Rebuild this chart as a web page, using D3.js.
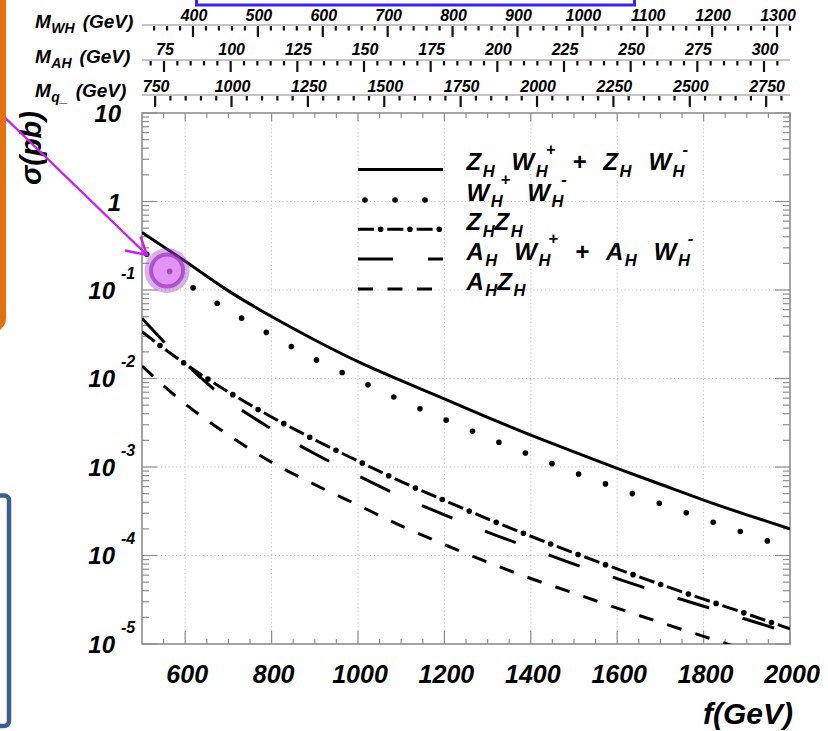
<!DOCTYPE html>
<html>
<head>
<meta charset="utf-8">
<script src="https://cdnjs.cloudflare.com/ajax/libs/d3/7.8.5/d3.min.js"></script>
<style>
  html, body { margin: 0; padding: 0; background: #ffffff; }
  svg { display: block; }
  text { font-family: "Liberation Sans", Arial, Helvetica, sans-serif; font-weight: bold; font-style: italic; fill: #000; }
</style>
</head>
<body>
<svg id="chart" width="828" height="731"></svg>
<script>
// ---- data: cross sections (pb) versus the symmetry-breaking scale f (GeV) ----
const fValues = [500, 600, 700, 800, 900, 1000, 1100, 1200, 1300, 1400, 1500, 1600, 1700, 1800, 1900, 2000];

// Z_H W_H^+ + Z_H W_H^-
const sigmaZW = [0.4467, 0.2113, 0.09772, 0.05012, 0.02723, 0.01549, 0.009441, 0.005888,
                 0.003631, 0.002291, 0.001479, 0.000966, 0.000638, 0.000423, 0.000288, 0.000200];
// W_H^+ W_H^-
const sigmaWW = [0.2793, 0.1216, 0.05916, 0.03069, 0.01660, 0.009616, 0.005662, 0.003451,
                 0.002153, 0.001361, 0.000873, 0.000577, 0.000386, 0.000259, 0.000176, 0.000119];
// Z_H Z_H
const sigmaZZ = [0.0338, 0.01462, 0.007047, 0.003673, 0.002028, 0.001169, 0.000684, 0.000419,
                 0.000260, 0.000165, 0.000107, 7.05e-5, 4.72e-5, 3.21e-5, 2.19e-5, 1.48e-5];
// A_H W_H^+ + A_H W_H^-
const sigmaAW = [0.04786, 0.01483, 0.00561, 0.00269, 0.00141, 0.000798, 0.000465, 0.000288,
                 0.000184, 0.000121, 7.98e-5, 5.48e-5, 3.78e-5, 2.67e-5, 1.89e-5, 1.33e-5];
// A_H Z_H
const sigmaAZ = [0.01384, 0.00516, 0.00230, 0.00113, 0.000632, 0.000371, 0.000216, 0.000133,
                 8.41e-5, 5.50e-5, 3.76e-5, 2.54e-5, 1.75e-5, 1.22e-5, 8.5e-6, 6.0e-6];

// ---- axes ----
const fTicks = [600, 800, 1000, 1200, 1400, 1600, 1800, 2000];
const fTickLabels = ["600", "800", "1000", "1200", "1400", "1600", "1800", "2000"];
const sigmaDecades = [1e-5, 1e-4, 1e-3, 1e-2, 1e-1, 1, 10];
const sigmaDecadeLabels = [["10", "-5"], ["10", "-4"], ["10", "-3"], ["10", "-2"], ["10", "-1"], ["1", ""], ["10", ""]];

// heavy-partner mass scales that correspond to the f range
const mWHTicks = [400, 500, 600, 700, 800, 900, 1000, 1100, 1200, 1300];
const mWHRange = [321.4, 1320];
const mAHTicks = [75, 100, 125, 150, 175, 200, 225, 250, 275, 300];
const mAHRange = [66.75, 309.75];
const mQTicks = [750, 1000, 1250, 1500, 1750, 2000, 2250, 2500, 2750];
const mQRange = [707, 2828];

// ---- legend ----
const legendLabels = [
  "Z_{H} W_{H}^{+} + Z_{H} W_{H}^{-}",
  "W_{H}^{+} W_{H}^{-}",
  "Z_{H}Z_{H}",
  "A_{H} W_{H}^{+} + A_{H} W_{H}^{-}",
  "A_{H}Z_{H}"
];

// ================= drawing =================
const svg = d3.select("#chart");
const frame = { left: 142, right: 790, top: 113, bottom: 644 };

const x = d3.scaleLinear().domain([500, 2000]).range([frame.left, frame.right]);
const y = d3.scaleLog().domain([1e-5, 10]).range([frame.bottom, frame.top]);

const frameColor = "#8e8e8e";
const gridColor = "#bdbdbd";

// small rich-text helper: handles _{sub} and ^{sup}
function parseRich(s) {
  const out = []; let i = 0; let buf = "";
  const flush = () => { if (buf) { out.push({ t: buf, k: "n" }); buf = ""; } };
  while (i < s.length) {
    const c = s[i];
    if ((c === "_" || c === "^") && s[i + 1] === "{") {
      flush();
      const j = s.indexOf("}", i);
      out.push({ t: s.slice(i + 2, j), k: c === "_" ? "sub" : "sup" });
      i = j + 1;
    } else if (c === " ") { flush(); out.push({ k: "sp" }); i++; }
    else { buf += c; i++; }
  }
  flush();
  return out;
}
function drawRich(g, s, x0, y0, o) {
  let cx = x0, lastSub = null;
  parseRich(s).forEach(p => {
    if (p.k === "sp") { cx += o.space; lastSub = null; return; }
    let fs = o.fs, dy = 0, px = cx;
    if (p.k === "sub") { fs = o.subFs; dy = o.subDy; px = cx + o.subGap; }
    if (p.k === "sup") { fs = o.subFs; dy = o.supDy; px = lastSub ? lastSub.end + o.supShift : cx + o.subGap; }
    const t = g.append("text").attr("x", px).attr("y", y0 + dy)
      .style("font-size", fs + "px").text(p.t);
    const end = px + t.node().getComputedTextLength();
    if (p.k === "sub") { lastSub = { start: px, end: end }; cx = end; }
    else if (p.k === "sup") { cx = Math.max(cx, end); lastSub = null; }
    else { cx = end; lastSub = null; }
  });
  return cx;
}

// ---- grid ----
const grid = svg.append("g").attr("stroke", gridColor).attr("stroke-width", 1)
  .attr("stroke-dasharray", "1.2 2.6");
fTicks.filter(v => v < 2000).forEach(v => {
  grid.append("line").attr("x1", x(v)).attr("x2", x(v)).attr("y1", frame.top).attr("y2", frame.bottom);
});
sigmaDecades.filter(v => v > 1e-5 && v < 10).forEach(v => {
  grid.append("line").attr("x1", frame.left).attr("x2", frame.right).attr("y1", y(v)).attr("y2", y(v));
});

// ---- frame and tick marks ----
const ticks = svg.append("g").attr("stroke", frameColor).attr("stroke-width", 1.2);
// x ticks every 50 GeV on bottom and top edges
d3.range(550, 2001, 50).forEach(v => {
  const major = fTicks.includes(v);
  const len = major ? 13 : 5;
  ticks.append("line").attr("x1", x(v)).attr("x2", x(v)).attr("y1", frame.bottom).attr("y2", frame.bottom - len);
  ticks.append("line").attr("x1", x(v)).attr("x2", x(v)).attr("y1", frame.top).attr("y2", frame.top + (major ? 8 : 5));
});
// y ticks on left and right edges
y.ticks().forEach(v => {
  const major = sigmaDecades.some(d => Math.abs(d - v) / d < 1e-6);
  const len = major ? 15 : 7;
  ticks.append("line").attr("x1", frame.left).attr("x2", frame.left + len).attr("y1", y(v)).attr("y2", y(v));
  ticks.append("line").attr("x1", frame.right).attr("x2", frame.right - len).attr("y1", y(v)).attr("y2", y(v));
});
svg.append("rect").attr("x", frame.left).attr("y", frame.top)
  .attr("width", frame.right - frame.left).attr("height", frame.bottom - frame.top)
  .attr("fill", "none").attr("stroke", frameColor).attr("stroke-width", 1.6);

// ---- axis labels ----
const xl = svg.append("g");
fTicks.forEach((v, i) => {
  xl.append("text").attr("x", x(v) + 2).attr("y", 683).attr("text-anchor", "middle")
    .style("font-size", "25px").text(fTickLabels[i]);
});
svg.append("text").attr("x", 793).attr("y", 724).attr("text-anchor", "end")
  .style("font-size", "30px").text("f(GeV)");

const yl = svg.append("g");
sigmaDecades.forEach((v, i) => {
  const [base, ex] = sigmaDecadeLabels[i];
  const ty = y(v);
  if (ex) {
    yl.append("text").attr("x", 115).attr("y", ty + 8.5).attr("text-anchor", "end")
      .style("font-size", "24px").text(base);
    yl.append("text").attr("x", 121).attr("y", ty - 11.5)
      .style("font-size", "16px").text(ex);
  } else {
    yl.append("text").attr("x", 121).attr("y", ty + 9).attr("text-anchor", "end")
      .style("font-size", "24px").text(base);
  }
});
svg.append("text").attr("transform", "translate(41,148) rotate(-90)")
  .attr("text-anchor", "middle").style("font-size", "29px").text("\u03c3(pb)");

// ---- mass scales along the top ----
const topAxes = [
  { title: "M_{WH} (GeV)", range: mWHRange, major: mWHTicks, minor: 20, lineY: 25, labelY: 20.5, titleY: 27.5 },
  { title: "M_{AH} (GeV)", range: mAHRange, major: mAHTicks, minor: 5, lineY: 60, labelY: 55, titleY: 63 },
  { title: "M_{q_} (GeV)", range: mQRange, major: mQTicks, minor: 50, lineY: 95, labelY: 91.5, titleY: 96.5 }
];
topAxes.forEach(ax => {
  const s = d3.scaleLinear().domain(ax.range).range([frame.left, frame.right]);
  const g = svg.append("g");
  g.append("line").attr("x1", frame.left).attr("x2", frame.right)
    .attr("y1", ax.lineY).attr("y2", ax.lineY).attr("stroke", "#b0b0b0").attr("stroke-width", 1.4);
  const first = Math.ceil(ax.range[0] / ax.minor) * ax.minor;
  d3.range(first, ax.range[1] + 1e-9, ax.minor).forEach(v => {
    const major = ax.major.includes(v);
    g.append("line").attr("x1", s(v)).attr("x2", s(v))
      .attr("y1", ax.lineY + 1).attr("y2", ax.lineY + (major ? 12 : 5.5))
      .attr("stroke", "#111").attr("stroke-width", 2.2);
  });
  ax.major.forEach(v => {
    g.append("text").attr("x", s(v) + 1).attr("y", ax.labelY).attr("text-anchor", "middle")
      .style("font-size", "16px").text(String(v));
  });
  drawRich(g, ax.title, 35, ax.titleY, { fs: 19, subFs: 14, subDy: 5, supDy: -8, subGap: 0.5, supShift: 0, space: 8 });
});

// ---- curves ----
svg.append("clipPath").attr("id", "plotClip").append("rect")
  .attr("x", frame.left).attr("y", frame.top)
  .attr("width", frame.right - frame.left).attr("height", frame.bottom - frame.top);
const plot = svg.append("g").attr("clip-path", "url(#plotClip)");
const line = d3.line().x(d => x(d[0])).y(d => y(d[1])).curve(d3.curveMonotoneX);
const pts = arr => fValues.map((f, i) => [f, arr[i]]);

// styles shared by curves and legend samples
const styles = [
  [{ w: 3 }],
  [{ w: 5.6, dash: "0 28.6", cap: "round", off: 22.6 }],
  [{ w: 3, dash: "16 13.3" }, { w: 5.6, dash: "0 29.3", cap: "round", off: 6.65 }],
  [{ w: 3, dash: "33 35" }],
  [{ w: 3, dash: "15 14.5" }]
];
const legendStyles = [
  [{ w: 3 }],
  [{ w: 5.6, dash: "0 30", cap: "round", off: -7 }],
  [{ w: 3, dash: "16 13.3" }, { w: 5.6, dash: "0 29.3", cap: "round", off: 6.65 }],
  [{ w: 3, dash: "35 35" }],
  [{ w: 3, dash: "15 14.5" }]
];
function stroke(sel, st) {
  sel.attr("fill", "none").attr("stroke", "#000").attr("stroke-width", st.w)
    .attr("stroke-linecap", st.cap || "butt");
  if (st.dash) sel.attr("stroke-dasharray", st.dash);
  if (st.off !== undefined) sel.attr("stroke-dashoffset", st.off);
}
const series = [sigmaZW, sigmaWW, sigmaZZ, sigmaAW, sigmaAZ];
series.forEach((arr, i) => {
  styles[i].forEach(st => stroke(plot.append("path").attr("d", line(pts(arr))), st));
});

// ---- legend ----
const legendRowY = [169.5, 200, 229.3, 259, 289];
const lg = svg.append("g");
legendLabels.forEach((lab, i) => {
  legendStyles[i].forEach(st => {
    stroke(lg.append("line").attr("x1", 358).attr("x2", 443)
      .attr("y1", legendRowY[i]).attr("y2", legendRowY[i]), st);
  });
  drawRich(lg, lab, 466.5, legendRowY[i] + 0.8,
    { fs: 24, subFs: 16.5, subDy: 6.5, supDy: -15.5, subGap: 1.5, supShift: -2, space: 17 });
});

// ---- annotation overlays ----
// highlight around the W_H W_H point near threshold
const hx = x(558), hy = y(0.166);
svg.append("circle").attr("cx", hx).attr("cy", hy).attr("r", 22.5)
  .attr("fill", "rgba(165,70,200,0.42)");
svg.append("circle").attr("cx", hx).attr("cy", hy).attr("r", 16)
  .attr("fill", "rgba(235,120,255,0.55)")
  .attr("stroke", "rgba(150,40,185,0.65)").attr("stroke-width", 4);

// pointer arrow
const arrowColor = "#c81ff0";
svg.append("line").attr("x1", -4).attr("y1", 109).attr("x2", 147).attr("y2", 255)
  .attr("stroke", arrowColor).attr("stroke-width", 2.4);
svg.append("polyline").attr("points", "125,250.5 147,255 140.5,236.5")
  .attr("fill", "none").attr("stroke", arrowColor).attr("stroke-width", 2.4)
  .attr("stroke-linejoin", "miter");

// boxes reaching in from the edges
svg.append("rect").attr("x", -100).attr("y", -100).attr("width", 103).attr("height", 430)
  .attr("rx", 12).attr("fill", "none").attr("stroke", "#e4700e").attr("stroke-width", 6);
svg.append("rect").attr("x", -100).attr("y", 495.5).attr("width", 109).attr("height", 230.5)
  .attr("rx", 5).attr("fill", "none").attr("stroke", "#3b5f8e").attr("stroke-width", 4.5);
svg.append("rect").attr("x", 196.5).attr("y", -40).attr("width", 438).attr("height", 45)
  .attr("fill", "none").attr("stroke", "#3a24ee").attr("stroke-width", 3);
</script>
</body>
</html>
